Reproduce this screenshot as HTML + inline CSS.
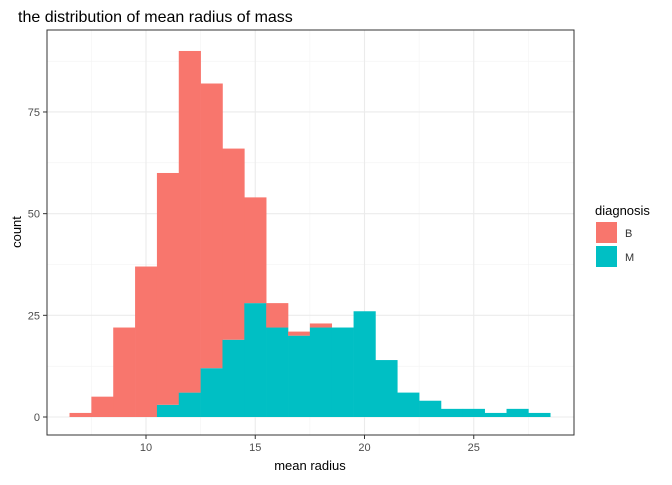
<!DOCTYPE html>
<html><head><style>
body{margin:0;background:#fff;}
text{font-family:"Liberation Sans",Arial,sans-serif;}
</style></head><body>
<svg id="chart" width="672" height="480" xmlns="http://www.w3.org/2000/svg">
<rect width="672" height="480" fill="#fff"/>
<text x="18" y="22" font-size="16" fill="#000">the distribution of mean radius of mass</text>
<g id="grid"></g>
<g id="bars"></g>
<rect x="47" y="30" width="527" height="405" fill="none" stroke="#333" stroke-width="1"/>
<g id="axes"></g>
<text x="310" y="470" font-size="13" text-anchor="middle">mean radius</text>
<text x="0" y="0" font-size="13" text-anchor="middle" transform="translate(21,232) rotate(-90)">count</text>
<g>
<text x="595" y="215" font-size="13">diagnosis</text>
<rect x="596" y="222" width="21" height="21" fill="#F8766D"/>
<text x="625" y="237" font-size="11" fill="#333">B</text>
<rect x="596" y="246" width="21" height="21" fill="#00BFC4"/>
<text x="625" y="261" font-size="11" fill="#333">M</text>
</g>
</svg>
<script>
const binStarts=[6.5,7.5,8.5,9.5,10.5,11.5,12.5,13.5,14.5,15.5,16.5,17.5,18.5,19.5,20.5,21.5,22.5,23.5,24.5,25.5,26.5,27.5];
const countB=[1,5,22,37,57,84,70,47,26,6,1,1,0,0,0,0,0,0,0,0,0,0];
const countM=[0,0,0,0,3,6,12,19,28,22,20,22,22,26,14,6,4,2,2,1,2,1];
const xTicks=[10,15,20,25];
const yTicks=[0,25,50,75];
const binWidth=1;
const NS="http://www.w3.org/2000/svg";
const X=v=>146+(v-10)*21.85;
const Y=v=>417-v*4.067;
function mk(tag,attrs,parent){const e=document.createElementNS(NS,tag);for(const k in attrs)e.setAttribute(k,attrs[k]);parent.appendChild(e);return e;}
const grid=document.getElementById('grid'),bars=document.getElementById('bars'),axes=document.getElementById('axes');
// minor grid
for(let i=0;i<yTicks.length;i++){const m=yTicks[i]+12.5;const l=mk('line',{x1:47,x2:574,y1:Y(m),y2:Y(m),stroke:'#f2f2f2','stroke-width':0.6},grid);

}
for(let i=-1;i<xTicks.length;i++){const m=(i<0?xTicks[0]-5:xTicks[i])+2.5;const l=mk('line',{x1:X(m),x2:X(m),y1:30,y2:435,stroke:'#f2f2f2','stroke-width':0.6},grid);

}
yTicks.forEach(t=>{const l=mk('line',{x1:47,x2:574,y1:Y(t),y2:Y(t),stroke:'#ebebeb','stroke-width':1.1},grid);


const tk=mk('line',{x1:43,x2:47,y1:Y(t),y2:Y(t),stroke:'#333'},axes);


const tx=mk('text',{x:40,y:Y(t)+4,'font-size':11,fill:'#4d4d4d','text-anchor':'end'},axes);tx.textContent=t;

});
xTicks.forEach(t=>{const l=mk('line',{x1:X(t),x2:X(t),y1:30,y2:435,stroke:'#ebebeb','stroke-width':1.1},grid);


const tk=mk('line',{x1:X(t),x2:X(t),y1:435,y2:439,stroke:'#333'},axes);


const tx=mk('text',{x:X(t),y:451,'font-size':11,fill:'#4d4d4d','text-anchor':'middle'},axes);tx.textContent=t;

});
binStarts.forEach((s,i)=>{const x0=X(s),x1=X(s+binWidth);const m=countM[i],b=countB[i];
if(m>0){const r=mk('rect',{x:x0,y:Y(m),width:x1-x0+0.3,height:Y(0)-Y(m),fill:'#00BFC4'},bars);

}
if(b>0){const r=mk('rect',{x:x0,y:Y(m+b),width:x1-x0+0.3,height:Y(m)-Y(m+b),fill:'#F8766D'},bars);

}});
</script>
</body></html>
